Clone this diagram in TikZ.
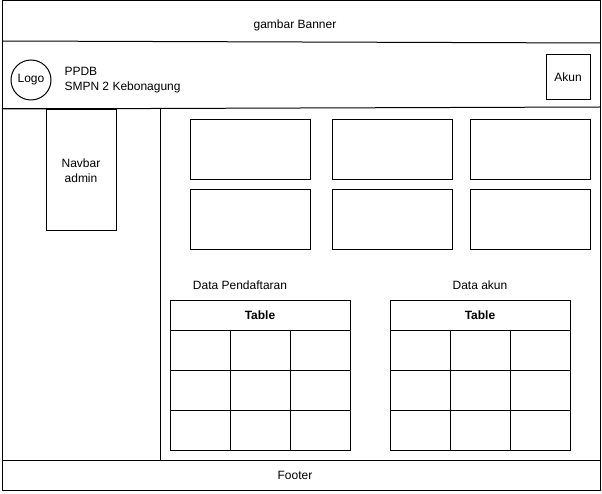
\documentclass[tikz,border=0pt]{standalone}
\usepackage{fontspec}
\setmainfont{Liberation Sans}
\newcommand{\drawrect}[5][]{%
\draw[line cap=rect,#1] (#2,#3) rectangle ++ (#4,#5); 
}
\newcommand{\drawtable}[3]{%
\drawrect{#1}{#2}{180}{150}
\draw (#1,#2+30) -- ++ (180,0);
\foreach \r in {70,110} \draw (#1,#2+\r) -- ++ (180,0);
\foreach \c in {60,120} \draw (#1+\c,#2+30) -- ++ (0,120);
\node[font=\fontsize{12}{14}\selectfont\bfseries] (#3) at (#1+90,#2+15) {Table}; 
}

\begin{document}
\begin{tikzpicture}[x=1pt,y=-1pt,line width=1pt,
  every node/.style={font=\fontsize{12}{15}\selectfont,inner sep=0pt}]
\useasboundingbox (0,0) rectangle (602,494);

% frame
\drawrect{2}{1}{598}{489}

% banner
\draw (2,41) -- (600,43);
\node (banner) at (295,25) {gambar Banner};

% header
\draw (2,109) -- (600,107);
\node[draw,circle,minimum size=40pt] (logo) at (31,80) {Logo};
\node[anchor=west,align=left] (ppdb) at (64,80) {PPDB\\SMPN 2 Kebonagung};
\node[draw,minimum width=44pt,minimum height=45pt] (akun) at (568,77.5) {Akun};

% sidebar
\drawrect{2}{109}{158}{351}
\node[draw,minimum width=70pt,minimum height=121pt,anchor=north] (navbar) at (81,109) {};
\node[align=center] (navbartext) at (81,171) {Navbar\\admin};

% cards
\foreach \x in {190,332,470}{
  \foreach \y in {120,190}{
    \drawrect{\x}{\y}{120}{60}
  }
}

% tables
\node (lblpendaftaran) at (240,285) {Data Pendaftaran};
\drawtable{170}{300}{tblpendaftaran}

\node (lblakun) at (480,285) {Data akun};
\drawtable{390}{300}{tblakun}

% footer
\draw (2,460) -- (600,460);
\node (footer) at (295,475) {Footer};

\end{tikzpicture}
\end{document}
